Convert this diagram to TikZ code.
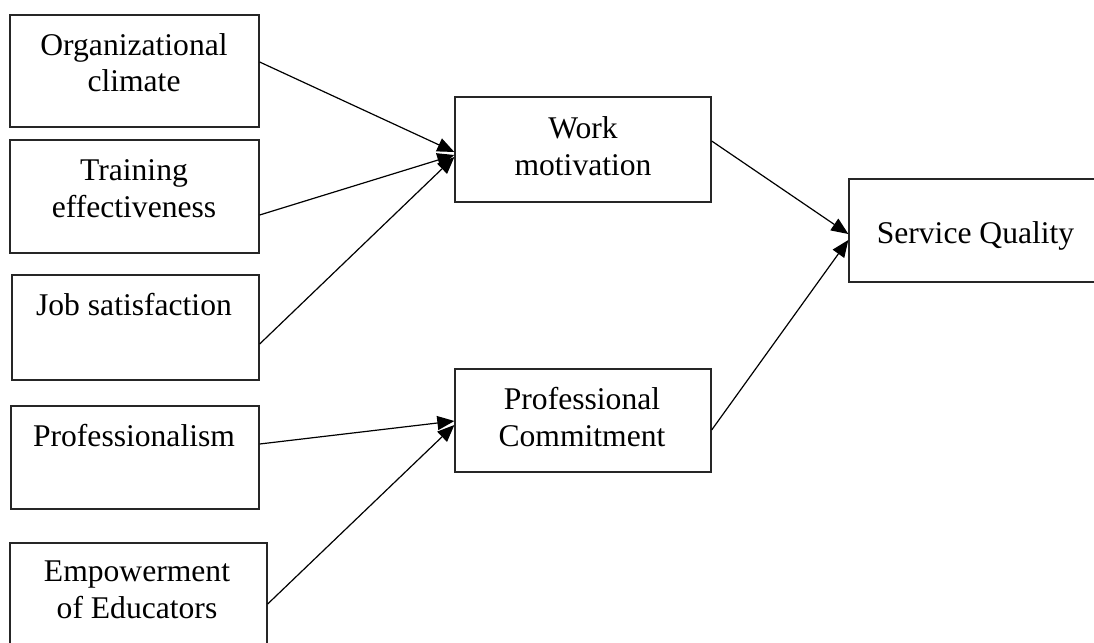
\documentclass[tikz,border=0pt]{standalone}
\usepackage{fontspec}
\setmainfont{Liberation Serif}
\usetikzlibrary{arrows.meta}
\begin{document}
\begin{tikzpicture}[x=1pt,y=-1pt,
  box/.style={draw=black!85,line width=1.3pt,rectangle,inner sep=0pt},
  lbl/.style={align=center,anchor=base,inner sep=0pt,font=\fontsize{31.6}{36.5}\selectfont},
  arr/.style={line width=1.2pt,-{Triangle[length=17pt,width=14pt]}}]
\useasboundingbox (0,0) rectangle (1094,642);
\clip (0,0) rectangle (1094,642);
\fill[white] (0,0) rectangle (1094,642);
% boxes
\node[box,minimum width=249pt,minimum height=112pt] (org)   at (134.5,71) {};
\node[box,minimum width=249pt,minimum height=113pt] (train) at (134.5,196.5) {};
\node[box,minimum width=247pt,minimum height=105pt] (job)   at (135.5,327.5) {};
\node[box,minimum width=248pt,minimum height=103pt] (prof)  at (135,457.5) {};
\node[box,minimum width=257pt,minimum height=112pt] (emp)   at (138.5,599) {};
\node[box,minimum width=256pt,minimum height=105pt] (wm)    at (583,149.5) {};
\node[box,minimum width=256pt,minimum height=103pt] (pc)    at (583,420.5) {};
\node[box,minimum width=253pt,minimum height=103pt] (sq)    at (975.5,230.5) {};
% labels (base anchor = baseline of the last line)
\node[lbl] (torg)   at (134,92)  {Organizational\\climate};
\node[lbl] (ttrain) at (134,217) {Training\\effectiveness};
\node[lbl] (tjob)   at (134,315) {Job satisfaction};
\node[lbl] (tprof)  at (134,446) {Professionalism};
\node[lbl] (temp)   at (137,618) {Empowerment\\of Educators};
\node[lbl] (twm)    at (583,175) {Work\\motivation};
\node[lbl] (tpc)    at (582,446) {Professional\\Commitment};
\node[lbl] (tsq)    at (975.5,243) {Service Quality};
% connectors
\draw[arr] (org.east |- 0,62)    -- (wm.west |- 0,152);
\draw[arr] (train.east |- 0,215) -- (wm.west |- 0,155);
\draw[arr] (job.east |- 0,344)   -- (wm.west |- 0,157);
\draw[arr] (prof.east |- 0,444)  -- (pc.west |- 0,421);
\draw[arr] (emp.east |- 0,604)   -- (pc.west |- 0,425);
\draw[arr] (wm.east |- 0,141)    -- (sq.west |- 0,234);
\draw[arr] (pc.east |- 0,430)    -- (sq.west |- 0,240);
\end{tikzpicture}
\end{document}
